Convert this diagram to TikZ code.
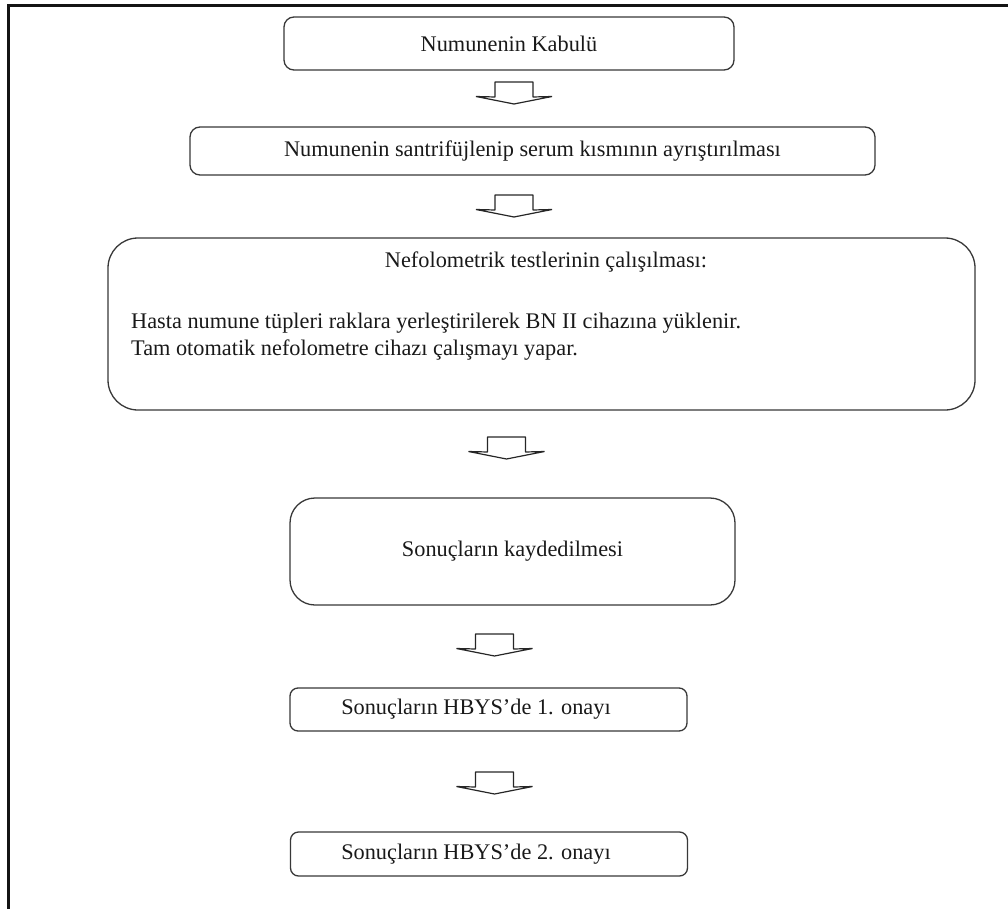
\documentclass[tikz,border=0pt]{standalone}
\usepackage{fontspec}
\setmainfont{Liberation Serif}
\begin{document}
\begin{tikzpicture}[x=1pt,y=-1pt,
  every node/.style={font=\fontsize{22.3}{27}\selectfont, text=black!90},
  stepbox/.style={draw=black!78, line width=1.3pt, inner sep=0pt},
  txt/.style={inner sep=0pt},
  blockarrow/.pic={
    \draw[draw=black!85, line width=1.2pt, line join=bevel]
      (-19,0) -- (-19,15) -- (-38,14.5) -- (0,22) -- (38,14.5) -- (19,15) -- (19,0) -- cycle;
  }]
  \useasboundingbox (0,0) rectangle (1008,909);

  % outer frame: only the top and left rules are visible
  \draw[line width=2.6pt, black!92] (8.7,909) -- (8.7,5.5) -- (1008,5.5);

  % process steps
  \node[stepbox, rounded corners=10pt, minimum width=450pt, minimum height=53pt]
    (kabul) at (509,43.5) {Numunenin Kabulü};
  \node[stepbox, rounded corners=10pt, minimum width=685pt, minimum height=48pt]
    (santri) at (532.5,151) {Numunenin santrifüjlenip serum kısmının ayrıştırılması};
  \node[stepbox, rounded corners=30pt, minimum width=867pt, minimum height=172pt]
    (nefo) at (541.5,324) {};
  \node[txt] (nefotitle) at (546,262) {Nefolometrik testlerinin çalışılması:};
  \node[txt, anchor=west] (nefoline1) at (131,323)
    {Hasta numune tüpleri raklara yerleştirilerek BN II cihazına yüklenir.};
  \node[txt, anchor=west] (nefoline2) at (131,350)
    {Tam otomatik nefolometre cihazı çalışmayı yapar.};
  \node[stepbox, rounded corners=25pt, minimum width=445pt, minimum height=107pt]
    (kayit) at (512.5,551.5) {Sonuçların kaydedilmesi};
  \node[stepbox, rounded corners=8pt, minimum width=397pt, minimum height=43pt]
    (onay1) at (488.5,709.5) {};
  \node[txt] (onay1text) at (476,709.5) {Sonuçların HBYS’de 1. onayı};
  \node[stepbox, rounded corners=8pt, minimum width=397pt, minimum height=44pt]
    (onay2) at (489,854) {};
  \node[txt] (onay2text) at (476,854) {Sonuçların HBYS’de 2. onayı};

  % block arrows between the steps
  \pic at (514,82) {blockarrow};
  \pic at (514,195) {blockarrow};
  \pic at (506.5,437) {blockarrow};
  \pic at (494.5,634) {blockarrow};
  \pic at (494.5,772) {blockarrow};
\end{tikzpicture}
\end{document}
